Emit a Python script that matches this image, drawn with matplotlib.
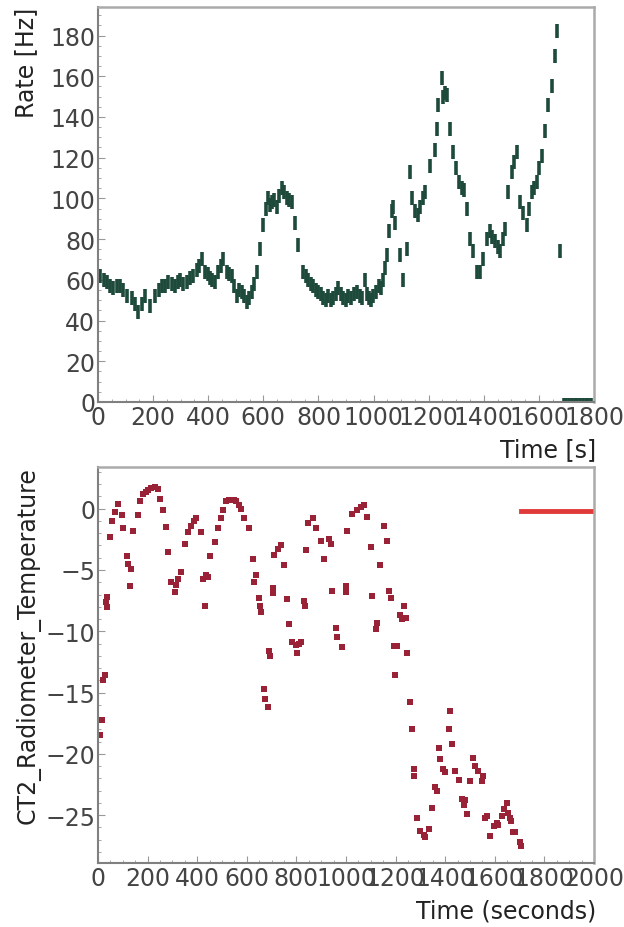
import matplotlib
matplotlib.use('Agg')
import matplotlib.pyplot as plt
from matplotlib.ticker import MultipleLocator

plt.rcParams['font.family'] = ['DejaVu Sans']

# -------------------------------------------------------------------------
# Top panel: counting rate
# -------------------------------------------------------------------------
rate_t = [7, 20, 32, 45, 55, 68, 80, 92, 104, 122, 134, 145, 158, 171, 189,
          207, 220, 231, 243, 254, 267, 279, 290, 298, 310, 322, 334, 345,
          358, 368, 376, 388, 398, 406, 415, 425, 437, 446, 455, 467, 477,
          485, 495, 503, 513, 522, 531, 540, 549, 558, 567, 576, 588, 600,
          608, 617, 624, 630, 640, 648, 658, 667, 676, 685, 694, 703, 715,
          727, 745, 754, 763, 772, 781, 790, 800, 809, 818, 827, 836, 845,
          854, 863, 872, 881, 890, 899, 908, 918, 929, 940, 950, 959, 968,
          976, 983, 990, 997, 1008, 1018, 1026, 1033, 1040, 1047, 1055, 1066,
          1072, 1078, 1096, 1107, 1120, 1132, 1141, 1150, 1160, 1170, 1180,
          1187, 1205, 1223, 1229, 1235, 1247, 1253, 1259, 1265, 1277, 1289,
          1301, 1310, 1320, 1329, 1338, 1350, 1362, 1374, 1386, 1398, 1410,
          1422, 1430, 1440, 1450, 1459, 1468, 1477, 1489, 1501, 1510, 1519,
          1531, 1543, 1556, 1565, 1574, 1583, 1592, 1601, 1610, 1622, 1634,
          1646, 1658, 1664, 1676]
rate_v = [62, 60, 59, 57, 56, 57, 57, 55, 52, 51, 48, 44, 48, 52, 47,
          52, 55, 57, 57, 59, 58, 57, 59, 60, 58, 59, 61, 62,
          65, 67, 70, 64, 63, 61, 60, 59, 64, 67, 70, 64, 63,
          62, 57, 52, 55, 54, 52, 49, 51, 54, 58, 64, 75, 87,
          95, 100, 97, 98, 99, 96, 101, 105, 103, 100, 99, 98, 88,
          77, 64, 62, 60, 58, 57, 55, 54, 53, 51, 50, 52, 50,
          51, 53, 56, 53, 51, 50, 52, 51, 53, 54, 52, 51, 60,
          53, 51, 50, 52, 54, 57, 56, 60, 66, 72, 84, 94,
          96, 88, 72, 60, 75, 113, 100, 94, 92, 96, 100,
          103, 116, 124, 134, 146, 159, 150, 152, 151, 134, 123,
          115, 108, 105, 104, 95, 80, 74, 64, 64, 70, 80,
          84, 81, 79, 76, 74, 80, 85, 103, 113, 118, 123,
          98, 93, 87, 95, 103, 105, 108, 115, 121, 133, 146,
          155, 170, 182, 74]

# empty bins at the end of the run (rate 0)
zero_t = [1690, 1700, 1710, 1720, 1730, 1740, 1750, 1760, 1770, 1780, 1790]
zero_v = [0, 0, 0, 0, 0, 0, 0, 0, 0, 0, 0]

# -------------------------------------------------------------------------
# Bottom panel: radiometer temperature
# -------------------------------------------------------------------------
temp_t = [8, 15, 22, 28, 32, 35, 38, 48, 55, 68, 82, 95, 102, 115, 122, 129,
          135, 142, 162, 169, 182, 192, 202, 215, 229, 242, 249, 262, 276,
          282, 296, 309, 316, 322, 336, 349, 363, 376, 386, 396, 416, 423,
          430, 437, 443, 450, 470, 483, 497, 503, 517, 527, 537, 547, 557,
          567, 577, 590, 610, 624, 631, 637, 650, 655, 657, 671, 674, 684,
          691, 694, 704, 706, 711, 724, 738, 751, 764, 771, 784, 797, 804,
          811, 818, 831, 835, 838, 845, 865, 878, 898, 912, 932, 939, 945,
          958, 965, 985, 998, 1001, 1005, 1025, 1045, 1059, 1072, 1086, 1099,
          1106, 1119, 1126, 1139, 1153, 1166, 1173, 1180, 1193, 1196, 1206,
          1219, 1226, 1233, 1240, 1246, 1259, 1266, 1273, 1276, 1286, 1300,
          1313, 1320, 1333, 1346, 1360, 1366, 1373, 1380, 1390, 1400, 1414,
          1420, 1427, 1440, 1454, 1467, 1474, 1481, 1487, 1501, 1514, 1522,
          1534, 1547, 1554, 1562, 1567, 1581, 1595, 1608, 1614, 1628, 1638,
          1648, 1655, 1661, 1667, 1675, 1681, 1701, 1707]
temp_v = [-18.5, -17.2, -14.0, -13.6, -7.6, -7.2, -8.0, -2.3, -1.0, -0.3, 0.4,
          -0.5, -1.6, -3.9, -4.5, -6.3, -4.9, -1.8, -0.5, 0.6, 1.2, 1.4, 1.5,
          1.7, 1.8, 1.6, 0.8, -0.1, -1.5, -3.5, -6.0, -6.8, -6.2, -5.7, -5.2,
          -2.9, -1.9, -1.4, -1.0, -0.8, -1.9, -5.7, -7.9, -5.4, -5.6, -3.9,
          -2.7, -1.6, -0.8, -0.1, 0.6, 0.7, 0.7, 0.7, 0.6, 0.3, 0.0, -0.8,
          -1.6, -4.1, -6.0, -5.4, -7.3, -7.9, -8.4, -14.7, -15.5, -16.2,
          -11.6, -12.0, -6.5, -6.9, -3.8, -3.3, -3.0, -4.6, -7.4, -9.4, -10.9,
          -11.1, -11.8, -11.0, -10.9, -7.5, -7.9, -3.4, -1.2, -0.8, -1.6,
          -2.6, -4.1, -2.5, -2.9, -6.7, -9.7, -10.5, -11.3, -6.3, -6.8, -1.8,
          -0.4, -0.1, 0.1, 0.3, -0.7, -3.1, -7.1, -9.8, -9.3, -4.6, -1.4,
          -2.6, -6.7, -7.3, -11.2, -13.6, -11.2, -8.7, -9.0, -7.9, -8.9,
          -11.8, -15.8, -18.0, -21.2, -21.8, -25.2, -26.3, -26.6, -26.8,
          -26.1, -24.4, -22.7, -23.0, -19.5, -20.4, -21.2, -21.5, -18.0,
          -16.5, -19.2, -21.4, -22.1, -23.7, -24.2, -23.8, -24.9, -22.2,
          -20.3, -21.0, -21.4, -22.2, -21.8, -25.2, -25.1, -26.7, -25.9,
          -25.6, -25.8, -25.1, -24.5, -24.0, -24.8, -25.2, -25.5, -26.4,
          -26.4, -27.2, -27.5]

# flat trace at the end of the run
flat_t = [1707, 2000]
flat_v = [-0.15, -0.15]

GREEN = '#1d4a3b'
MAROON = '#9a2236'
RED = '#e03a3a'
FS = 17


def style_axes(ax):
    for side in ('top', 'right'):
        ax.spines[side].set_color('#aaaaaa')
        ax.spines[side].set_linewidth(1.8)
    for side in ('left', 'bottom'):
        ax.spines[side].set_color('#808080')
        ax.spines[side].set_linewidth(1.5)
    ax.tick_params(which='both', direction='in', color='#999999',
                   labelsize=FS, labelcolor='#444444', pad=2)
    ax.tick_params(which='major', length=5)
    ax.tick_params(which='minor', length=2.5)


fig = plt.figure(figsize=(6.24, 9.28), dpi=100)

# --- top: Rate ---
ax1 = fig.add_axes([98 / 624, 1 - 403 / 928, 496 / 624, 395 / 928])
ax1.plot(rate_t, rate_v, linestyle='none', marker='|', ms=10, mew=2.6,
         color=GREEN)
ax1.plot(zero_t, zero_v, linestyle='none', marker='|', ms=6, mew=2.6,
         color=GREEN)
ax1.set_xlim(0, 1800)
ax1.set_ylim(0, 194)
ax1.xaxis.set_major_locator(MultipleLocator(200))
ax1.xaxis.set_minor_locator(MultipleLocator(50))
ax1.yaxis.set_major_locator(MultipleLocator(20))
ax1.yaxis.set_minor_locator(MultipleLocator(5))
style_axes(ax1)
fig.text(596 / 624, 1 - 450 / 928, 'Time [s]', ha='right', va='center',
         fontsize=FS, color='#222222')
fig.text(26 / 624, 1 - 8 / 928, 'Rate [Hz]', ha='center', va='top',
         rotation=90, fontsize=FS, color='#222222')

# --- bottom: CT2 radiometer temperature ---
ax2 = fig.add_axes([98 / 624, 1 - 864 / 928, 496 / 624, 396 / 928])
ax2.plot(temp_t, temp_v, linestyle='none', marker='s', ms=4, mew=0,
         color=MAROON)
ax2.plot(flat_t, flat_v, '-', color=RED, linewidth=3.5)
ax2.set_xlim(0, 2000)
ax2.set_ylim(-28.9, 3.4)
ax2.xaxis.set_major_locator(MultipleLocator(200))
ax2.xaxis.set_minor_locator(MultipleLocator(50))
ax2.yaxis.set_major_locator(MultipleLocator(5))
ax2.yaxis.set_minor_locator(MultipleLocator(1))
style_axes(ax2)
fig.text(596 / 624, 1 - 912 / 928, 'Time (seconds)', ha='right', va='center',
         fontsize=FS, color='#222222')
fig.text(28 / 624, 1 - 467 / 928, 'CT2_Radiometer_Temperature', ha='center',
         va='top', rotation=90, fontsize=FS, color='#222222')

fig.savefig('out.png', dpi=100)
